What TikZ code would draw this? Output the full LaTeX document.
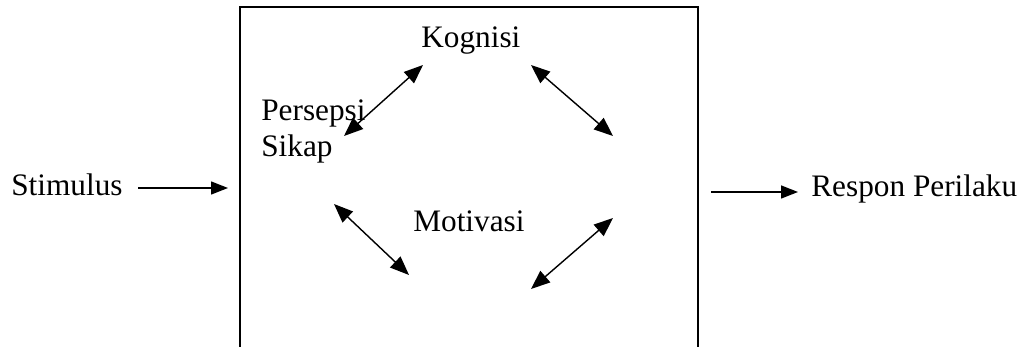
\documentclass[tikz,border=0pt]{standalone}
\usepackage{fontspec}
\setmainfont{Liberation Serif}
\usetikzlibrary{arrows.meta}

\begin{document}
\begin{tikzpicture}[x=.02cm, y=-.02cm,
	lbl/.style={anchor=base west, inner sep=0pt},
	link/.style={line width=.8pt, {Triangle[length=.38cm, width=.3cm]}-{Triangle[length=.38cm, width=.3cm]}},
	flow/.style={line width=.8pt, -{Triangle[length=.34cm, width=.26cm]}}]
	\useasboundingbox (0,0) rectangle (1027,347);
	\fontsize{17.8}{21}\selectfont

	% box, open at the bottom
	\draw[line width=.8pt] (240,347) -- (240,7) -- (698,7) -- (698,347);

	\node[lbl] (kog) at (421,48) {Kognisi};
	\node[lbl] (per) at (261,121) {Persepsi};
	\node[lbl] (sik) at (261,157) {Sikap};
	\node[lbl] (mot) at (413,232) {Motivasi};
	\node[lbl] (sti) at (11,196) {Stimulus};
	\node[lbl] (res) at (811,197) {Respon Perilaku};

	% ends of the arrows
	\coordinate (a1) at (423,65);  \coordinate (a2) at (344,136);
	\coordinate (b1) at (531,65);  \coordinate (b2) at (613,136);
	\coordinate (c1) at (334,204); \coordinate (c2) at (409,275);
	\coordinate (d1) at (613,218); \coordinate (d2) at (531,289);
	\coordinate (sout) at (138,188); \coordinate (sin) at (228,188);
	\coordinate (rout) at (711,192); \coordinate (rin) at (798,192);

	\draw[link] (a1) -- (a2);
	\draw[link] (b1) -- (b2);
	\draw[link] (c1) -- (c2);
	\draw[link] (d1) -- (d2);

	\draw[flow] (sout) -- (sin);
	\draw[flow] (rout) -- (rin);
\end{tikzpicture}
\end{document}
